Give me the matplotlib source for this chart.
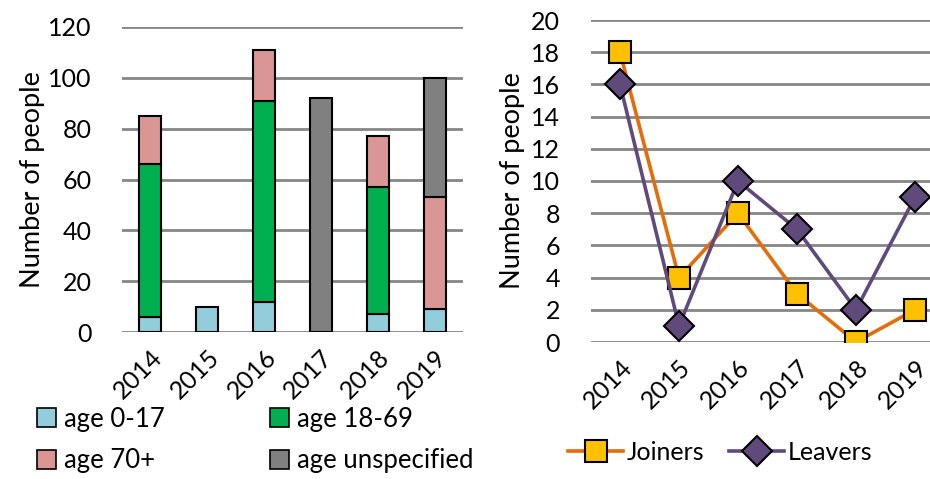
import matplotlib.pyplot as plt
import matplotlib.transforms as mtransforms
from matplotlib.patches import Patch
from matplotlib.lines import Line2D

plt.rcParams['font.family'] = ['Lato', 'DejaVu Sans']
plt.rcParams['font.size'] = 18

years = ['2014', '2015', '2016', '2017', '2018', '2019']

# stacked bar data (left chart)
age_0_17 = [6, 10, 12, 0, 7, 9]
age_18_69 = [60, 0, 79, 0, 50, 0]
age_70_plus = [19, 0, 20, 0, 20, 44]
age_unspecified = [0, 0, 0, 92, 0, 47]

# line data (right chart)
joiners = [18, 4, 8, 3, 0, 2]
leavers = [16, 1, 10, 7, 2, 9]

c_young = '#92CDDC'
c_mid = '#00B050'
c_old = '#D99694'
c_unk = '#808080'
c_join_line = '#E46C0A'
c_join_fill = '#FFC000'
c_leave = '#604A7B'
grid_c = '#868686'

fig = plt.figure(figsize=(9.3, 4.79), dpi=100)

""" left: stacked bars """
ax1 = fig.add_axes([122 / 930, 147 / 479, 341 / 930, 305 / 479])
x = range(len(years))
bottom = [0] * len(years)
series = [(age_0_17, c_young), (age_18_69, c_mid), (age_70_plus, c_old), (age_unspecified, c_unk)]
for vals, col in series:
    for i, v in enumerate(vals):
        if v > 0:
            ax1.bar(i, v, bottom=bottom[i], width=0.39, color=col,
                    edgecolor='black', linewidth=1.5, zorder=3)
    bottom = [b + v for b, v in zip(bottom, vals)]

ax1.set_xlim(-0.5, 5.5)
ax1.set_ylim(0, 120)
ax1.set_yticks(range(0, 121, 20))
ax1.set_ylabel('Number of people', fontsize=19.5, labelpad=2)

""" right: lines """
ax2 = fig.add_axes([590.5 / 930, 137 / 479, 354 / 930, 322 / 479])
ax2.plot(x, joiners, color=c_join_line, linewidth=2.6, marker='s', markersize=16,
         markerfacecolor=c_join_fill, markeredgecolor='black', markeredgewidth=1.5,
         zorder=3, label='Joiners')
ax2.plot(x, leavers, color=c_leave, linewidth=2.6, marker='D', markersize=15,
         markerfacecolor=c_leave, markeredgecolor='black', markeredgewidth=1.5,
         zorder=4, label='Leavers')
ax2.set_xlim(-0.5, 5.5)
ax2.set_ylim(0, 20)
ax2.set_yticks(range(0, 21, 2))
ax2.set_ylabel('Number of people', fontsize=19.5, labelpad=4)

shift = mtransforms.ScaledTranslation(-4 / 100, 0, fig.dpi_scale_trans)
for ax in (ax1, ax2):
    ax.set_xticks(list(x))
    ax.set_xticklabels(years, rotation=45, ha='right', rotation_mode='anchor', fontsize=18)
    for lbl in ax.get_xticklabels():
        lbl.set_transform(lbl.get_transform() + shift)
    for s in ax.spines.values():
        s.set_visible(False)
    ax.yaxis.grid(True, color=grid_c, linewidth=2, zorder=0)
    ax.set_axisbelow(True)
    ax.tick_params(axis='both', length=0)
    ax.tick_params(axis='y', pad=22)
    ax.tick_params(axis='x', pad=10)

# left legend
handles1 = [Patch(facecolor=c, edgecolor='black', linewidth=1.2)
            for c in (c_young, c_old, c_mid, c_unk)]
labels1 = ['age 0-17', 'age 70+', 'age 18-69', 'age unspecified']
fig.legend(handles1, labels1, ncol=2, loc='center left',
           bbox_to_anchor=(37 / 930, 1 - 440 / 479), fontsize=18.5,
           frameon=False, handlelength=0.75, handleheight=0.75, borderaxespad=0,
           handletextpad=0.3, columnspacing=4.1, labelspacing=0.65, borderpad=0)

# right legend
handles2 = [Line2D([], [], color=c_join_line, linewidth=2.6, marker='s', markersize=16,
                   markerfacecolor=c_join_fill, markeredgecolor='black', markeredgewidth=1.5),
            Line2D([], [], color=c_leave, linewidth=2.6, marker='D', markersize=15,
                   markerfacecolor=c_leave, markeredgecolor='black', markeredgewidth=1.5)]
fig.legend(handles2, ['Joiners', 'Leavers'], ncol=2, loc='center left',
           bbox_to_anchor=(568 / 930, 1 - 452 / 479), frameon=False, borderaxespad=0,
           handlelength=2.2, handletextpad=0.15, columnspacing=1.0, borderpad=0)

fig.savefig('out.png', dpi=100)
